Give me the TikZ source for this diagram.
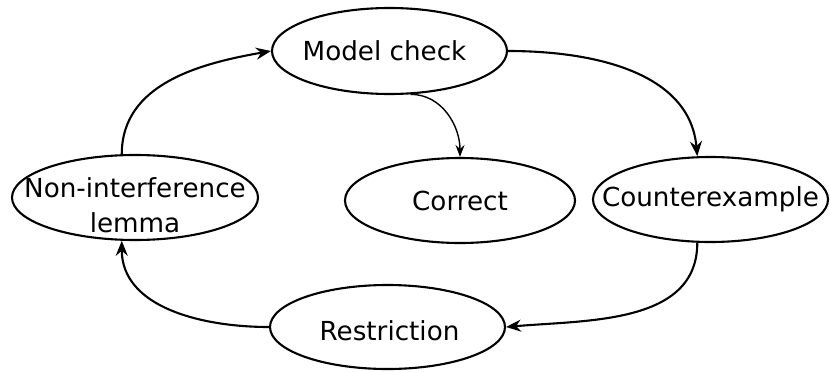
\documentclass[tikz,border=0pt]{standalone}
\usepackage{fontspec}
\setmainfont{DejaVu Sans}
\usetikzlibrary{shapes.geometric,arrows.meta}

\tikzset{
	looppicture/.style = {
		x = 1pt,
		y = -1pt,
		every label/.append style = {
			align = center,
			font = \fontsize{26.2}{35}\selectfont
		},
		arrow/.style = {
			draw,
			-{Stealth[length=15pt, width=12pt, inset=5pt]},
			line width = 2.1pt,
		}
	},
	statenode/.style = {
		ellipse,
		draw = black,
		line width = 2.1pt,
		inner sep = 0pt
	},
	result-arrow/.style = {
		-{Stealth[length=12pt, width=9pt, inset=4pt]},
		line width = 1.4pt
	}
}

\begin{document}
\begin{tikzpicture}[looppicture]
	\useasboundingbox (0,0) rectangle (830,372);

	% the states, text set as a centred label
	\node[statenode, minimum width = 235pt, minimum height = 86pt,
		label = {[xshift=-5pt]center:Model check}] (check) at (389.5,51) {};
	\node[statenode, minimum width = 246pt, minimum height = 85pt,
		label = {[yshift=-8pt]center:Non-interference\\lemma}] (lemma) at (135,197.5) {};
	\node[statenode, minimum width = 230pt, minimum height = 85pt,
		label = {center:Correct}] (correct) at (460,200.5) {};
	\node[statenode, minimum width = 235pt, minimum height = 85pt,
		label = {center:Counterexample}] (counter) at (710.5,199.5) {};
	\node[statenode, minimum width = 235pt, minimum height = 84pt,
		label = {[xshift=2pt, yshift=-4pt]center:Restriction}] (restr) at (387.5,327) {};

	\begin{scope}[every path/.style = arrow]
		\path (lemma.107) to[out=90, in=190] (check.west);
		\path (check.east) to[out=0, in=95] (counter.107);
		\path[result-arrow] (check.-64) to[out=0, in=90] (correct.north);
		\path (counter.253) to[out=-90, in=5] (restr.east);
		\path (restr.west) to[out=180, in=-90] (lemma.253);
	\end{scope}
\end{tikzpicture}
\end{document}
